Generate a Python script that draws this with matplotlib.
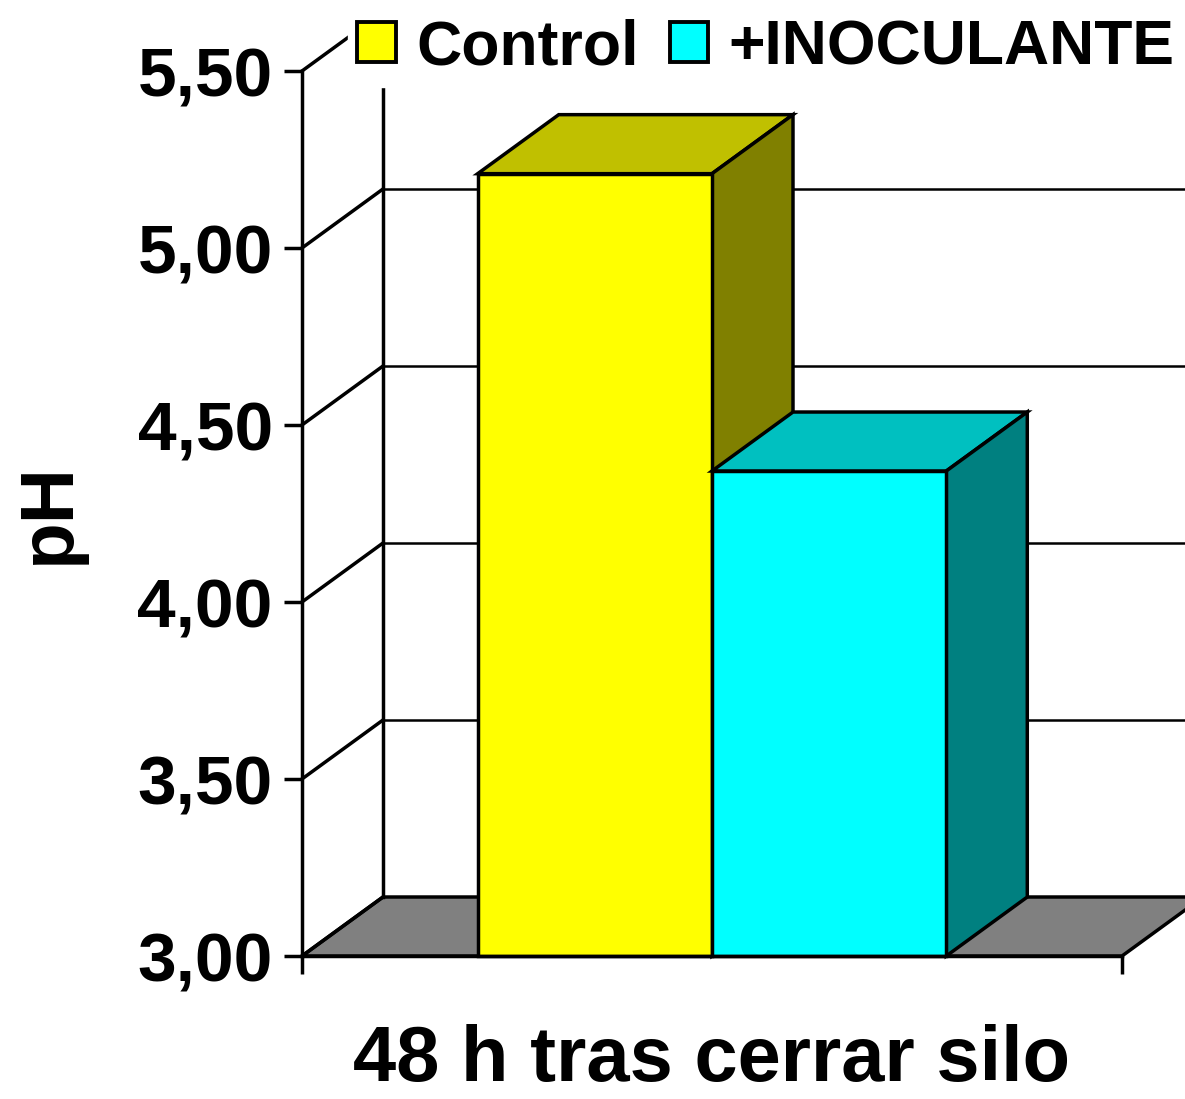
import matplotlib.pyplot as plt
import matplotlib.patches as mpatches
from matplotlib.patches import Polygon

# data
series = ["Control", "+INOCULANTE"]
values = [5.21, 4.37]
category = "48 h tras cerrar silo"
yticks = [3.0, 3.5, 4.0, 4.5, 5.0, 5.5]
ytick_labels = ["3,00", "3,50", "4,00", "4,50", "5,00", "5,50"]

front_colors = ["#FFFF00", "#00FFFF"]
top_colors = ["#C0C000", "#00C0C0"]
side_colors = ["#808000", "#008080"]

plt.rcParams["font.family"] = ["Liberation Sans", "DejaVu Sans"]
plt.rcParams["font.weight"] = "bold"

W, H = 1185, 1099
fig = plt.figure(figsize=(W / 100, H / 100), dpi=100, facecolor="white")
ax = fig.add_axes([302 / W, 1 - 956 / H, 820 / W, 885 / H])
ax.set_xlim(0, 1)
ax.set_ylim(3.0, 5.5)
ax.set_facecolor("none")

# depth offset of the 3d look, in data units
dx = 81 / 820
dy = (5.5 - 3.0) * 59 / 885
y0 = 3.0
lw = 2.5

# floor
ax.add_patch(Polygon([(0, y0), (1, y0), (1 + dx, y0 + dy), (dx, y0 + dy)],
                     closed=True, facecolor="#808080", edgecolor="black",
                     lw=lw, clip_on=False, zorder=1))

# back wall gridlines + left wall diagonals
for v in yticks[1:]:
    ax.plot([dx, 1 + dx], [v + dy, v + dy], color="black", lw=1.8,
            clip_on=False, zorder=1)
for v in yticks:
    ax.plot([0, dx], [v, v + dy], color="black", lw=lw,
            clip_on=False, zorder=1)
ax.plot([dx, dx], [y0 + dy, yticks[-1] + dy], color="black", lw=lw,
        clip_on=False, zorder=1)

# bars
gap = 1.5
w = 1 / (len(values) + gap)
start = 0.5 - w * len(values) / 2
for i, v in enumerate(values):
    x0 = start + i * w
    x1 = x0 + w
    z = 3 + i
    ax.add_patch(Polygon([(x0, v), (x1, v), (x1 + dx, v + dy), (x0 + dx, v + dy)],
                         closed=True, facecolor=top_colors[i], edgecolor="black",
                         lw=lw, clip_on=False, zorder=z, joinstyle="miter"))
    ax.add_patch(Polygon([(x1, y0), (x1 + dx, y0 + dy), (x1 + dx, v + dy), (x1, v)],
                         closed=True, facecolor=side_colors[i], edgecolor="black",
                         lw=lw, clip_on=False, zorder=z, joinstyle="miter"))
    ax.add_patch(Polygon([(x0, y0), (x1, y0), (x1, v), (x0, v)],
                         closed=True, facecolor=front_colors[i], edgecolor="black",
                         lw=lw, clip_on=False, zorder=z, joinstyle="miter"))

# axes
for s in ["top", "right"]:
    ax.spines[s].set_visible(False)
for s in ["left", "bottom"]:
    ax.spines[s].set_linewidth(lw)
    ax.spines[s].set_zorder(10)

ax.set_yticks(yticks)
ax.set_yticklabels(ytick_labels, fontsize=50, fontweight="bold")
ax.tick_params(axis="y", direction="out", length=13, width=lw, pad=8)

ax.set_xticks([0.5])
ax.set_xticklabels([category], fontsize=56, fontweight="bold")
ax.set_xticks([0, 1], minor=True)
ax.tick_params(axis="x", which="major", length=0, pad=49)
ax.tick_params(axis="x", which="minor", direction="out", length=13, width=lw)

ax.set_ylabel("pH", fontsize=55, fontweight="bold")
ax.yaxis.set_label_coords(-0.265, 0.5)

handles = [mpatches.Patch(facecolor=front_colors[i], edgecolor="black", lw=2.8,
                          label=series[i]) for i in range(len(series))]
leg = fig.legend(handles=handles, loc="upper left",
                 bbox_to_anchor=(348 / W, 1 - 9 / H),
                 ncol=2, frameon=True, fancybox=False,
                 handlelength=0.61, handleheight=0.61, handletextpad=0.33,
                 columnspacing=0.5, borderpad=0.15, borderaxespad=0.0,
                 prop={"weight": "bold", "size": 45})
leg.get_frame().set_facecolor("white")
leg.get_frame().set_edgecolor("white")
leg.get_frame().set_alpha(1.0)
leg.set_zorder(20)

fig.savefig("out.png", dpi=100, facecolor="white")
